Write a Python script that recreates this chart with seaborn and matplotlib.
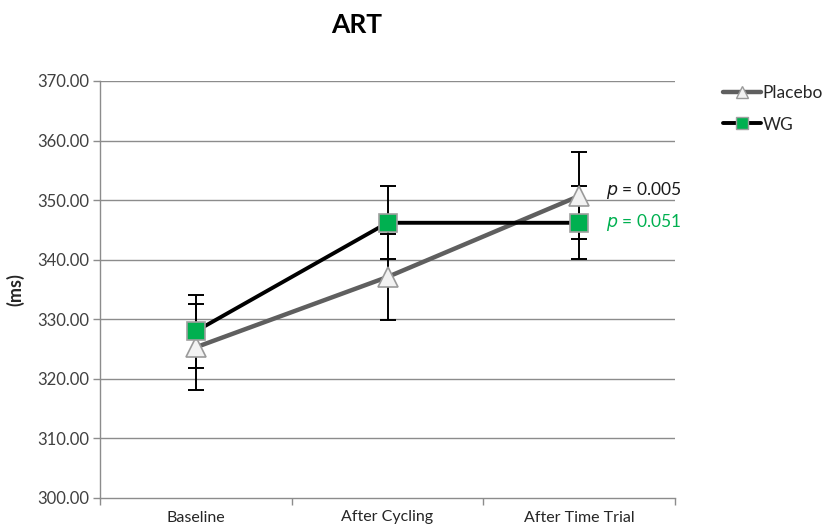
import matplotlib
matplotlib.use("Agg")
import matplotlib.pyplot as plt
from matplotlib.ticker import FormatStrFormatter, FixedLocator
from matplotlib.lines import Line2D
import seaborn as sns
import pandas as pd

# Reaction time by stage (means and error-bar half-widths, ms)
stages = ["Baseline", "After Cycling", "After Time Trial"]
placebo = [325.3, 337.1, 350.7]
placebo_err = [7.2, 7.2, 7.3]
wg = [328.0, 346.2, 346.2]
wg_err = [6.1, 6.1, 6.1]
p_labels = ["0.005", "0.051"]

sns.set_theme(style="white")
plt.rcParams["font.family"] = ["Lato", "DejaVu Sans"]

fig = plt.figure(figsize=(8.23, 5.27), dpi=100)
ax = fig.add_axes([100 / 823, 1 - 498 / 527, 575 / 823, 417 / 527])

df = pd.DataFrame({
    "stage": stages * 2,
    "x": list(range(len(stages))) * 2,
    "value": placebo + wg,
    "group": ["Placebo"] * 3 + ["WG"] * 3,
})

grid_col = "#8c8c8c"
for yv in range(310, 371, 10):
    ax.axhline(yv, color=grid_col, lw=1.0, zorder=0)

xs = list(range(len(stages)))
ax.errorbar(xs, placebo, yerr=placebo_err, fmt="none", ecolor="black",
            elinewidth=1.4, capsize=6, capthick=1.4, zorder=2)
ax.errorbar(xs, wg, yerr=wg_err, fmt="none", ecolor="black",
            elinewidth=1.4, capsize=6, capthick=1.4, zorder=2)

sns.lineplot(data=df[df.group == "Placebo"], x="x", y="value", ax=ax,
             color="#5f5f5f", lw=3.2, marker="^", markersize=14,
             markerfacecolor="#f2f2f2", markeredgecolor="#9a9a9a",
             markeredgewidth=1.2, zorder=3, legend=False)
sns.lineplot(data=df[df.group == "WG"], x="x", y="value", ax=ax,
             color="black", lw=2.8, marker="s", markersize=13,
             markerfacecolor="#00b050", markeredgecolor="#a0a0a0",
             markeredgewidth=1.2, zorder=4, legend=False)

ax.set_xlim(-0.5, 2.5)
ax.set_ylim(300, 370)
ax.yaxis.set_major_locator(FixedLocator(range(300, 371, 10)))
ax.yaxis.set_major_formatter(FormatStrFormatter("%.2f"))
ax.set_xticks(xs)
ax.set_xticklabels(stages)
ax.xaxis.set_minor_locator(FixedLocator([-0.5, 0.5, 1.5, 2.5]))
ax.tick_params(axis="x", which="major", length=0, pad=9, labelsize=11.5,
               labelcolor="#262626")
ax.tick_params(axis="x", which="minor", length=5, width=1, color=grid_col,
               direction="out", bottom=True)
ax.tick_params(axis="y", length=5, width=1, color=grid_col, direction="out",
               left=True, labelsize=12, labelcolor="#404040", pad=3)
for side in ["top", "right"]:
    ax.spines[side].set_visible(False)
for side in ["left", "bottom"]:
    ax.spines[side].set_color(grid_col)
    ax.spines[side].set_linewidth(1.0)
ax.set_xlabel("")
ax.set_ylabel("(ms)", fontsize=13, fontweight="bold", color="#262626",
              labelpad=9)

fig.text(357 / 823, 1 - 25 / 527, "ART", fontsize=19, fontweight="bold",
         ha="center", va="center", color="black")

ax.text(2.14, 351.6, r"$\it{p}$ = " + p_labels[0], fontsize=12.5,
        color="#1a1a1a", ha="left", va="center")
ax.text(2.14, 346.3, r"$\it{p}$ = " + p_labels[1], fontsize=12.5,
        color="#00b050", ha="left", va="center")

handles = [
    Line2D([], [], color="#5f5f5f", lw=3.2, marker="^", markersize=8,
           markerfacecolor="#f2f2f2", markeredgecolor="#9a9a9a"),
    Line2D([], [], color="black", lw=2.8, marker="s", markersize=8,
           markerfacecolor="#00b050", markeredgecolor="#a0a0a0"),
]
fig.legend(handles, ["Placebo", "WG"], loc="upper left",
           bbox_to_anchor=(716 / 823, 1 - 78 / 527), frameon=False,
           fontsize=12.5, handlelength=2.2, handletextpad=0.1,
           labelspacing=0.9, borderaxespad=0)

fig.savefig("out.png", dpi=100)
